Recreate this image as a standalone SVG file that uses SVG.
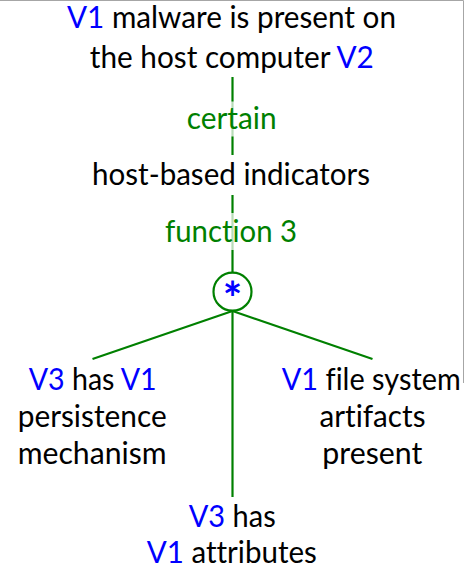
<svg xmlns="http://www.w3.org/2000/svg" width="466" height="570" viewBox="0 0 466 570">
  <style>
    text { font-family: Lato, "Open Sans", "Liberation Sans", sans-serif; font-size: 30px; fill: #000; text-anchor: middle; font-variant-ligatures: none; }
    .v { fill: #0000ff; }
    .lbl { fill: #008000; }
    .edge { stroke: #008000; stroke-width: 2.2; fill: none; }
    .lblbg { fill: #ffffff; fill-opacity: 0.72; }
    .frame { stroke: #a6a6a6; stroke-width: 1; fill: none; }
  </style>
  <rect x="0" y="0" width="466" height="570" fill="#ffffff"/>
  <path class="frame" d="M0 0.5 H463.5 V383"/>

  <g id="connectors">
    <line class="edge" x1="232.5" y1="77" x2="232.5" y2="155"/>
    <line class="edge" x1="232.5" y1="195" x2="232.5" y2="272"/>
    <line class="edge" x1="232.5" y1="311" x2="92.5" y2="359"/>
    <line class="edge" x1="232.5" y1="311" x2="372.5" y2="359"/>
    <line class="edge" x1="232.5" y1="311" x2="232.5" y2="497"/>
    <rect class="lblbg" x="187" y="101.5" width="89" height="35"/>
    <text class="lbl" x="231.7" y="129.3" textLength="90" lengthAdjust="spacingAndGlyphs">certain</text>
    <rect class="lblbg" x="166" y="213" width="130" height="37"/>
    <text class="lbl" x="231" y="241.7" textLength="132" lengthAdjust="spacingAndGlyphs">function 3</text>
  </g>

  <g id="malware-present">
    <text x="231.5" y="28.3" textLength="329" lengthAdjust="spacingAndGlyphs"><tspan class="v">V1</tspan> malware is present on</text>
    <text x="231.8" y="67.5" textLength="284" lengthAdjust="spacingAndGlyphs">the host computer <tspan class="v">V2</tspan></text>
  </g>

  <g id="host-indicators">
    <text x="231" y="185" textLength="278" lengthAdjust="spacingAndGlyphs">host-based indicators</text>
  </g>

  <g id="combine">
    <circle cx="232.5" cy="291.7" r="19" fill="#ffffff" stroke="#008000" stroke-width="2.2"/>
    <text class="v" x="232.5" y="315" style="font-weight:bold; font-size:46px">*</text>
  </g>

  <g id="persistence">
    <text x="92.7" y="389.5" textLength="128" lengthAdjust="spacingAndGlyphs"><tspan class="v">V3</tspan> has <tspan class="v">V1</tspan></text>
    <text x="92.2" y="427" textLength="149" lengthAdjust="spacingAndGlyphs">persistence</text>
    <text x="92.2" y="464" textLength="149" lengthAdjust="spacingAndGlyphs">mechanism</text>
  </g>

  <g id="attributes">
    <text x="232.2" y="526.7" textLength="87" lengthAdjust="spacingAndGlyphs"><tspan class="v">V3</tspan> has</text>
    <text x="231.8" y="563.3" textLength="170" lengthAdjust="spacingAndGlyphs"><tspan class="v">V1</tspan> attributes</text>
  </g>

  <g id="file-artifacts">
    <text x="371.3" y="389.5" textLength="179" lengthAdjust="spacingAndGlyphs"><tspan class="v">V1</tspan> file system</text>
    <text x="372.5" y="427" textLength="106" lengthAdjust="spacingAndGlyphs">artifacts</text>
    <text x="372.3" y="464" textLength="100" lengthAdjust="spacingAndGlyphs">present</text>
  </g>
</svg>
